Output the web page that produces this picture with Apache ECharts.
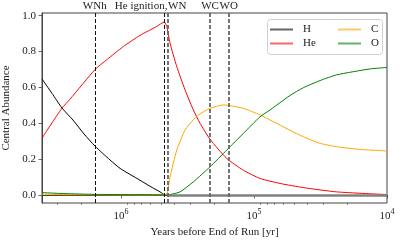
<!DOCTYPE html>
<html>
<head>
<meta charset="utf-8">
<script src="https://cdn.jsdelivr.net/npm/echarts@6/dist/echarts.min.js"></script>
<style>
html,body{margin:0;padding:0;background:#fff;}
#chart{width:407px;height:244px;}
</style>
</head>
<body>
<div id="chart"></div>
<script>
// Years before end of run vs central abundance
const H = [[3.93e6,0.647],[3.30e6,0.566],[2.78e6,0.485],[2.30e6,0.418],[1.897e6,0.34],[1.567e6,0.272],[1.21e6,0.195],[1.017e6,0.148],[7.2e5,0.082],[6.05e5,0.048],[5.09e5,0.017],[4.72e5,0.0]];
const He = [[3.93e6,0.317],[2.79e6,0.483],[2.42e6,0.534],[1.567e6,0.70],[1.281e6,0.754],[9.61e5,0.828],[7.2e5,0.89],[5.39e5,0.94],[4.72e5,0.965],[4.53e5,0.94],[4.28e5,0.847],[3.81e5,0.716],[3.30e5,0.586],[2.86e5,0.474],[2.547e5,0.40],[2.14e5,0.31],[1.605e5,0.204],[1.204e5,0.138],[9.01e4,0.092],[6.37e4,0.064],[4.26e4,0.041],[2.39e4,0.017],[1e4,0.002]];
const C = [[3.93e6,0.004],[2.78e6,0.002],[1.567e6,0.001],[7.2e5,0.0],[4.65e5,0.0],[4.5e5,0.01],[4.28e5,0.10],[3.81e5,0.25],[3.30e5,0.362],[2.86e5,0.42],[2.547e5,0.452],[2.14e5,0.483],[1.70e5,0.502],[1.204e5,0.483],[9.01e4,0.446],[7.58e4,0.418],[6.37e4,0.39],[5.36e4,0.36],[4.26e4,0.325],[3.19e4,0.288],[2.39e4,0.269],[1.6e4,0.254],[1e4,0.245]];
const O = [[3.93e6,0.013],[2.78e6,0.008],[2.0e6,0.005],[1.5e6,0.003],[1e6,0.002],[5e5,0.001],[4.5e5,0.0],[4.28e5,0.002],[3.60e5,0.017],[2.86e5,0.073],[2.14e5,0.157],[1.605e5,0.25],[1.204e5,0.343],[9.01e4,0.436],[7.58e4,0.474],[6.37e4,0.515],[5.36e4,0.555],[4.26e4,0.598],[3.19e4,0.638],[2.39e4,0.67],[1.342e4,0.703],[1e4,0.711]];
const eventNames = ['WNh','He ignition,','WN','WC','WO'];
const eventYears = [1.576e6, 4.72e5, 4.43e5, 2.14e5, 1.55e5];
const xMajorTicks = [1e4, 1e5, 1e6];
const xMinorTicks = [2e4,3e4,4e4,5e4,6e4,7e4,8e4,9e4,2e5,3e5,4e5,5e5,6e5,7e5,8e5,9e5,2e6,3e6];
const yTicks = [0, 0.2, 0.4, 0.6, 0.8, 1.0];
const xMin = 1e4, xMax = 3.93e6, yMin = -0.045, yMax = 1.015;

const FONT = "'Liberation Serif','DejaVu Serif',serif";
const TXT = '#222';
const chart = echarts.init(document.getElementById('chart'), null, {renderer:'canvas'});

const eventStyles = [
  {color:'#111', width:1},
  {color:'#111', width:1},
  {color:'#666', width:1.8},
  {color:'#666', width:1.8},
  {color:'#666', width:1.8}
];
const eventAlign = ['center','right','left','center','center'];
const eventOffset = [0, 3, 0, 0, 0];

const eventLines = eventYears.map((v,i)=>({
  xAxis: v,
  lineStyle: {color: eventStyles[i].color, width: eventStyles[i].width, type:[4,2]},
  label: {show:true, position:'end', formatter: eventNames[i], align: eventAlign[i],
          offset:[eventOffset[i],0], distance: 1, fontFamily: FONT, fontSize: 11, color: TXT}
}));

const xAxisBase = {
  type:'log', logBase:10, min:xMin, max:xMax, inverse:true, gridIndex:0,
  position:'bottom', splitLine:{show:false}
};

const lineSeries = (name, data, color) => ({
  name, type:'line', data, showSymbol:false, smooth:0.2, color, lineStyle:{width:1, color}
});

chart.setOption({
  animation:false,
  grid:{left:42, right:20, top:13, bottom:41, outerBoundsMode:'none', containLabel:false,
        show:true, borderColor:'#444', borderWidth:1, backgroundColor:'transparent'},
  xAxis:[
    Object.assign({}, xAxisBase, {
      name:'Years before End of Run [yr]', nameLocation:'middle', nameGap:16,
      nameTextStyle:{fontFamily:FONT, fontSize:11, color:TXT},
      axisLine:{show:true, lineStyle:{color:'#444', width:1}},
      axisTick:{show:true, length:3.5, lineStyle:{color:'#444', width:0.8}, customValues:xMajorTicks},
      axisLabel:{show:true, margin:5, customValues:xMajorTicks,
        formatter:function(v){ return '{b|10}{s|' + Math.round(Math.log10(v)) + '}'; },
        rich:{ b:{fontFamily:FONT, fontSize:11, color:TXT, lineHeight:14, verticalAlign:'bottom'},
               s:{fontFamily:FONT, fontSize:8, color:TXT, lineHeight:8, verticalAlign:'top'} }
      }
    }),
    Object.assign({}, xAxisBase, {
      axisLine:{show:false},
      axisTick:{show:true, length:2, lineStyle:{color:'#444', width:0.6}, customValues:xMinorTicks},
      axisLabel:{show:false}
    })
  ],
  yAxis:{
    type:'value', min:yMin, max:yMax,
    name:'Central Abundance', nameLocation:'middle', nameGap:19, nameRotate:90,
    nameTextStyle:{fontFamily:FONT, fontSize:11, color:TXT},
    splitLine:{show:false},
    axisLine:{show:true, lineStyle:{color:'#444', width:1}},
    axisTick:{show:true, length:3.5, lineStyle:{color:'#444', width:0.8}, customValues:yTicks},
    axisLabel:{show:true, margin:6, customValues:yTicks, fontFamily:FONT, fontSize:11, color:TXT,
      formatter:function(v){ return v.toFixed(1); }}
  },
  legend:[
    {orient:'vertical', left:270, top:24, padding:0, data:['H','He'], icon:'rect', itemWidth:23, itemHeight:2, itemGap:3,
     itemStyle:{opacity:0.6}, textStyle:{fontFamily:FONT, fontSize:11, color:TXT, padding:[0,0,0,5]}, selectedMode:false},
    {orient:'vertical', left:338, top:24, padding:0, data:['C','O'], icon:'rect', itemWidth:23, itemHeight:2, itemGap:3,
     itemStyle:{opacity:0.6}, textStyle:{fontFamily:FONT, fontSize:11, color:TXT, padding:[0,0,0,5]}, selectedMode:false}
  ],
  graphic:[
    {type:'rect', left:267, top:19, z:3, shape:{width:115, height:35, r:3},
     style:{fill:'rgba(255,255,255,0.85)', stroke:'#d0d0d0', lineWidth:1}}
  ],
  series:[
    Object.assign(lineSeries('H', H, '#000'), {
      markLine:{silent:true, symbol:'none', animation:false,
        data:[[{coord:[4.43e5,0], lineStyle:{color:'#808080', width:2.5, type:'solid'}, label:{show:false}},{coord:[1e4,0]}]]}}),
    lineSeries('He', He, '#ff0000'),
    lineSeries('C', C, '#ffa500'),
    lineSeries('O', O, '#008000'),
    {name:'events', type:'line', data:[], markLine:{silent:true, symbol:'none', animation:false, data:eventLines}}
  ]
});
</script>
</body>
</html>
